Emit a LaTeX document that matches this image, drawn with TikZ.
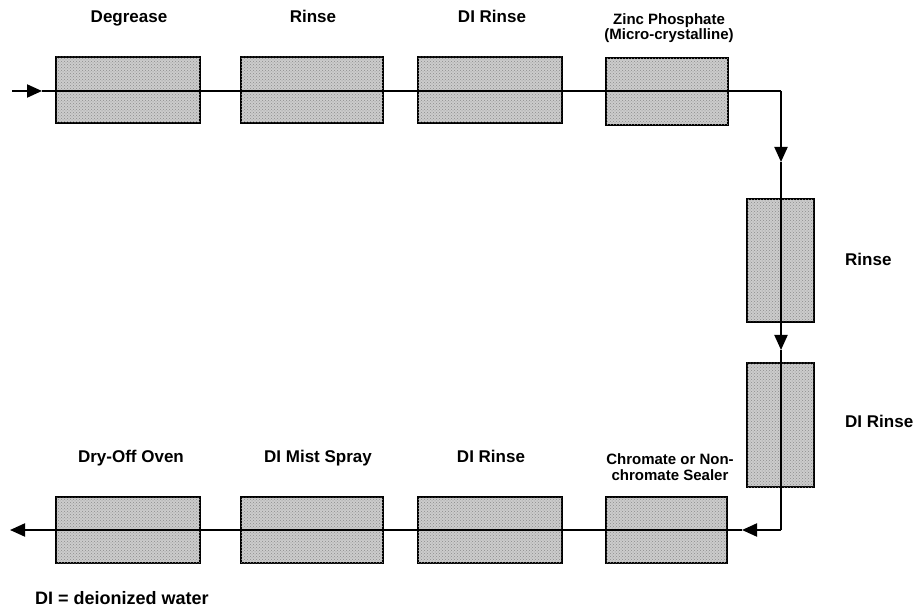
\documentclass[tikz,border=0pt]{standalone}
\usepackage{fontspec}
\setmainfont{Liberation Sans}
\usetikzlibrary{arrows.meta,patterns}
\begin{document}
\begin{tikzpicture}[x=1pt,y=-1pt,
  stage/.style={draw=black,line width=1.6pt,fill=black!20,
    postaction={pattern=crosshatch dots,pattern color=black!45},
    inner sep=0pt,outer sep=0pt,anchor=north west},
  lbl/.style={font=\fontsize{17}{19}\selectfont\bfseries,inner sep=0pt,anchor=base},
  lbltwo/.style={font=\fontsize{15}{15.5}\selectfont\bfseries,inner sep=0pt,align=center},
  flow/.style={line width=2pt},
  flowarr/.style={line width=2pt,-{Triangle[length=15pt,width=13pt]}}]
\useasboundingbox (0,0) rectangle (918,609);
% top row
\node[stage,minimum width=144pt,minimum height=66pt] (t1) at (56,57) {};
\node[stage,minimum width=142pt,minimum height=66pt] (t2) at (241,57) {};
\node[stage,minimum width=144pt,minimum height=66pt] (t3) at (418,57) {};
\node[stage,minimum width=122pt,minimum height=67pt] (t4) at (606,58) {};
% vertical
\node[stage,minimum width=67pt,minimum height=123pt] (v1) at (747,199) {};
\node[stage,minimum width=67pt,minimum height=124pt] (v2) at (747,363) {};
% bottom row
\node[stage,minimum width=121pt,minimum height=66pt] (b4) at (606,497) {};
\node[stage,minimum width=144pt,minimum height=66pt] (b3) at (418,497) {};
\node[stage,minimum width=142pt,minimum height=66pt] (b2) at (241,497) {};
\node[stage,minimum width=144pt,minimum height=66pt] (b1) at (56,497) {};
% labels
\node[lbl] (lt1) at (129,23) {Degrease};
\node[lbl] (lt2) at (313,23) {Rinse};
\node[lbl] (lt3) at (492,23) {DI Rinse};
\node[lbltwo] (lt4) at (669,28) {Zinc Phosphate\\(Micro-crystalline)};
\node[lbl,anchor=base west] (lv1) at (845,266) {Rinse};
\node[lbl,anchor=base west] (lv2) at (845,427) {DI Rinse};
\node[lbl] (lb1) at (131,462) {Dry-Off Oven};
\node[lbl] (lb2) at (318,462) {DI Mist Spray};
\node[lbl] (lb3) at (491,462) {DI Rinse};
\node[lbltwo] (lb4) at (670,467) {Chromate or Non-\\chromate Sealer};
\node[lbl,anchor=base west,font=\fontsize{18}{20}\selectfont\bfseries] (legend) at (35,604) {DI = deionized water};
% flow line
\coordinate (in) at (12,91);
\coordinate (a1) at (42,91);
\coordinate (c1) at (781,91);
\coordinate (a2) at (781,162);
\coordinate (a3) at (781,350);
\coordinate (c2) at (781,530);
\coordinate (a4) at (742,530);
\coordinate (out) at (10,530);
\draw[flowarr] (in) -- (a1);
\draw[flow] (a1) -- (c1);
\draw[flowarr] (c1) -- (a2);
\draw[flowarr] (a2) -- (a3);
\draw[flow] (a3) -- (c2);
\draw[flowarr] (c2) -- (a4);
\draw[flowarr] (a4) -- (out);
\end{tikzpicture}
\end{document}
